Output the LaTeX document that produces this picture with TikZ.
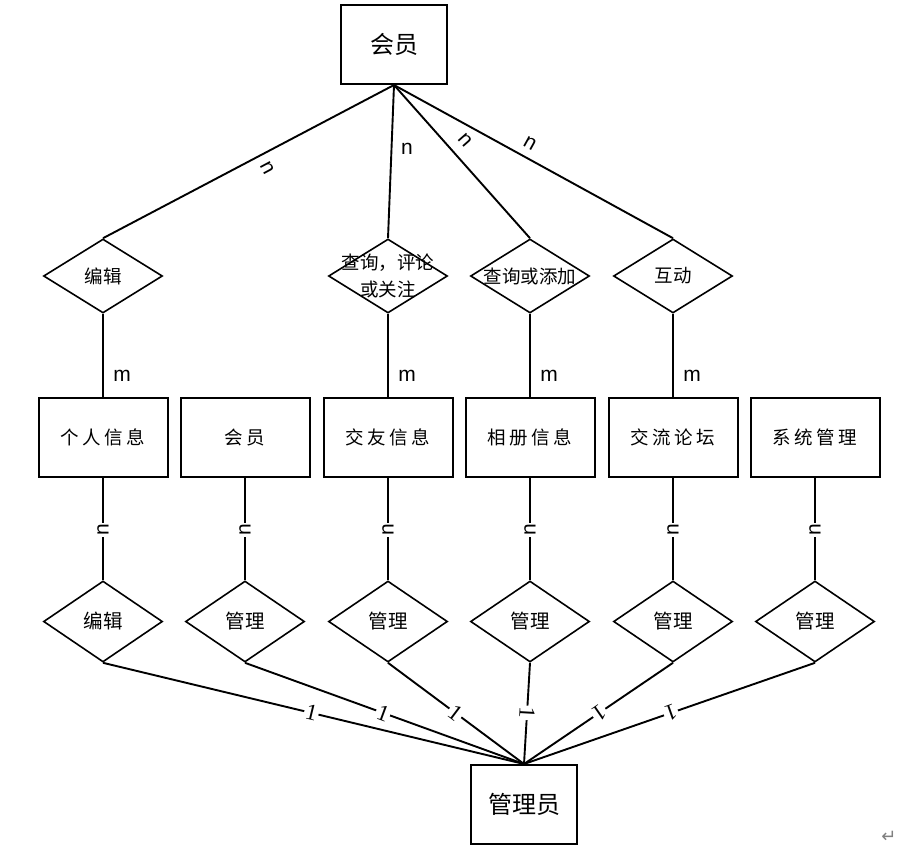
\documentclass[tikz,border=0pt]{standalone}
\usepackage{fontspec}
\usetikzlibrary{shapes.geometric}
\newfontfamily\cjk{Noto Sans CJK SC}
\newfontfamily\latsans{Liberation Sans}
\newfontfamily\latserif{Liberation Serif}
\newfontfamily\symfont{DejaVu Sans}
\newcommand\gapc{\hspace{3.5pt}}
\tikzset{
  conn/.style={line width=1.9pt},
  bigent/.style={draw, line width=2pt, minimum width=106pt, minimum height=79pt, inner sep=0pt,
    font=\cjk\fontsize{24}{28}\selectfont},
  ent/.style={draw, line width=2pt, minimum width=129pt, minimum height=79pt, inner sep=0pt,
    font=\cjk\fontsize{18.5}{22}\selectfont},
  rel/.style={draw, diamond, line width=1.6pt, minimum width=119pt, minimum height=74pt, inner sep=0pt},
  relb/.style={rel, minimum height=81pt},
  reltext/.style={font=\cjk\fontsize{18.5}{27}\selectfont, align=center, inner sep=0pt},
  reltextb/.style={font=\cjk\fontsize{19.5}{24}\selectfont, align=center, inner sep=0pt},
  lbn/.style={font=\latsans\fontsize{21}{21}\selectfont, inner sep=1pt},
  lbone/.style={font=\latserif\fontsize{23}{23}\selectfont, fill=white, inner sep=1.5pt},
}
\begin{document}
\begin{tikzpicture}[x=1pt, y=-1pt]
\useasboundingbox (0,0) rectangle (920,852);
\fill[white] (0,0) rectangle (920,852);

% top entity
\node[bigent] (hy) at (394,44.5) {会员};

% first row of relationships
\node[rel] (d1) at (103,276) {};
\node[reltext] (d1t) at (d1) {编辑};
\node[rel] (d2) at (388,276) {};
\node[reltext] (d2t) at (d2) {查询，评论\\或关注};
\node[rel] (d3) at (530,276) {};
\node[reltext] (d3t) at (d3) {查询或添加};
\node[rel] (d4) at (673,276) {};
\node[reltext] (d4t) at (d4) {互动};

% entity row
\node[ent] (e1) at (103,437.5) {个\gapc 人\gapc 信\gapc 息};
\node[ent] (e2) at (245,437.5) {会\gapc 员};
\node[ent] (e3) at (388,437.5) {交\gapc 友\gapc 信\gapc 息};
\node[ent] (e4) at (530,437.5) {相\gapc 册\gapc 信\gapc 息};
\node[ent] (e5) at (673,437.5) {交\gapc 流\gapc 论\gapc 坛};
\node[ent] (e6) at (815,437.5) {系\gapc 统\gapc 管\gapc 理};

% second row of relationships
\node[relb] (r1) at (103,621.5) {};
\node[reltextb] (r1t) at (r1) {编辑};
\node[relb] (r2) at (245,621.5) {};
\node[reltextb] (r2t) at (r2) {管理};
\node[relb] (r3) at (388,621.5) {};
\node[reltextb] (r3t) at (r3) {管理};
\node[relb] (r4) at (530,621.5) {};
\node[reltextb] (r4t) at (r4) {管理};
\node[relb] (r5) at (673,621.5) {};
\node[reltextb] (r5t) at (r5) {管理};
\node[relb] (r6) at (815,621.5) {};
\node[reltextb] (r6t) at (r6) {管理};

% bottom entity
\node[bigent] (gl) at (524,804.5) {管理员};

% top connectors
\draw[conn] (hy.south) -- (d1.north) node[pos=0.46, xshift=7pt, yshift=-13pt, rotate=-62, lbn] {n};
\draw[conn] (hy.south) -- (d2.north) node[pos=0.42, xshift=15.5pt, lbn] {n};
\draw[conn] (hy.south) -- (d3.north) node[pos=0.431, xshift=12.4pt, yshift=10.8pt, rotate=-48.7, lbn] {n};
\draw[conn] (hy.south) -- (d4.north) node[pos=0.462, xshift=7pt, yshift=12.6pt, rotate=-29, lbn] {n};

% m connectors
\draw[conn] (d1.south) -- (e1.north) node[pos=0.74, xshift=19pt, lbn] {m};
\draw[conn] (d2.south) -- (e3.north) node[pos=0.74, xshift=19pt, lbn] {m};
\draw[conn] (d3.south) -- (e4.north) node[pos=0.74, xshift=19pt, lbn] {m};
\draw[conn] (d4.south) -- (e5.north) node[pos=0.74, xshift=19pt, lbn] {m};

% entity to lower relationships
\draw[conn] (e1.south) -- (r1.north) node[pos=0.51, rotate=90, lbn, fill=white] {n};
\draw[conn] (e2.south) -- (r2.north) node[pos=0.51, rotate=90, lbn, fill=white] {n};
\draw[conn] (e3.south) -- (r3.north) node[pos=0.51, rotate=90, lbn, fill=white] {n};
\draw[conn] (e4.south) -- (r4.north) node[pos=0.51, rotate=90, lbn, fill=white] {n};
\draw[conn] (e5.south) -- (r5.north) node[pos=0.51, rotate=90, lbn, fill=white] {n};
\draw[conn] (e6.south) -- (r6.north) node[pos=0.51, rotate=90, lbn, fill=white] {n};

% lower relationships to admin
\draw[conn] (r1.south) -- (gl.north) node[pos=0.495, rotate=-13.7, lbone] {1};
\draw[conn] (r2.south) -- (gl.north) node[pos=0.495, rotate=-20.3, lbone] {1};
\draw[conn] (r3.south) -- (gl.north) node[pos=0.495, rotate=-37.1, lbone] {1};
\draw[conn] (r4.south) -- (gl.north) node[pos=0.495, rotate=-93.3, lbone] {1};
\draw[conn] (r5.south) -- (gl.north) node[pos=0.495, rotate=-145.3, lbone] {1};
\draw[conn] (r6.south) -- (gl.north) node[pos=0.495, rotate=-160.5, lbone] {1};

% paragraph mark
\node[text=gray, font=\symfont\fontsize{18}{18}\selectfont, inner sep=0pt] (ret) at (889,837) {↵};
\end{tikzpicture}
\end{document}
